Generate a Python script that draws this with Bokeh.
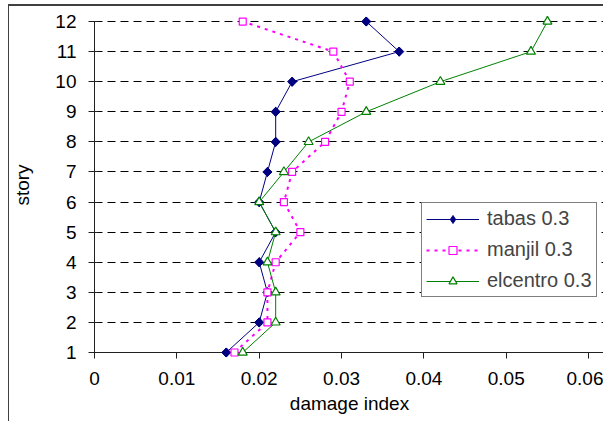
from bokeh.plotting import figure
from bokeh.models import FixedTicker, Range1d, Legend, LegendItem, Grid
from bokeh.embed import file_html
from bokeh.resources import INLINE

# ---- data ----
story = [1, 2, 3, 4, 5, 6, 7, 8, 9, 10, 11, 12]
tabas = [0.016, 0.020, 0.021, 0.020, 0.022, 0.020, 0.021, 0.022, 0.022, 0.024, 0.037, 0.033]
manjil = [0.017, 0.021, 0.021, 0.022, 0.025, 0.023, 0.024, 0.028, 0.030, 0.031, 0.029, 0.018]
elcentro = [0.018, 0.022, 0.022, 0.021, 0.022, 0.020, 0.023, 0.026, 0.033, 0.042, 0.053, 0.055]
x_ticks = [0, 0.01, 0.02, 0.03, 0.04, 0.05, 0.06]
x_tick_labels = ["0", "0.01", "0.02", "0.03", "0.04", "0.05", "0.06"]
y_ticks = [1, 2, 3, 4, 5, 6, 7, 8, 9, 10, 11, 12]
series_names = ["tabas 0.3", "manjil 0.3", "elcentro 0.3"]

FONT = "Liberation Sans"
FS = "19px"
X_MIN, X_MAX = x_ticks[0], x_ticks[-1]
Y_MIN, Y_MAX = y_ticks[0], y_ticks[-1]

p = figure(width=595, height=417, output_backend="svg", toolbar_location=None,
           x_range=Range1d(X_MIN, 0.06193), y_range=Range1d(0.834, 12.3),
           min_border_left=82, min_border_right=0, min_border_top=6, min_border_bottom=66)
p.outline_line_color = None
p.background_fill_color = "white"
p.border_fill_color = "white"
p.styles = {"margin-left": "8px", "margin-top": "4px",
            "border-left": "1px solid #404040", "border-top": "2px solid #404040"}

# axes
for ax in (p.xaxis[0], p.yaxis[0]):
    ax.axis_line_color = "#202020"
    ax.major_tick_line_color = "#202020"
    ax.minor_tick_line_color = None
    ax.major_label_text_font = FONT
    ax.major_label_text_font_size = FS
    ax.major_label_text_color = "black"
    ax.axis_label_text_font = FONT
    ax.axis_label_text_font_size = FS
    ax.axis_label_text_font_style = "normal"
    ax.axis_label_text_color = "black"

p.xaxis.ticker = FixedTicker(ticks=x_ticks)
p.xaxis.major_label_overrides = {t: l for t, l in zip(x_ticks, x_tick_labels)}
p.xaxis.axis_line_color = None
p.xaxis.major_tick_in = 5
p.xaxis.major_tick_out = 1
p.xaxis.major_label_standoff = 13
p.xaxis.axis_label = "damage index"
p.xaxis.axis_label_standoff = 5

p.yaxis.ticker = FixedTicker(ticks=y_ticks)
p.yaxis.bounds = (Y_MIN, Y_MAX)
p.yaxis.major_tick_in = 4
p.yaxis.major_tick_out = 6
p.yaxis.major_label_standoff = 12
p.yaxis.axis_label = "story"
p.yaxis.axis_label_standoff = 19

p.xgrid.visible = False
p.ygrid.ticker = FixedTicker(ticks=[t for t in y_ticks if t > Y_MIN])
p.ygrid.grid_line_color = "black"
p.ygrid.grid_line_dash = "8 5"
p.ygrid.grid_line_width = 1
p.ygrid.bounds = (X_MIN, 0.0597)

# x-axis baseline at story 1
base = Grid(dimension=1, ticker=FixedTicker(ticks=[Y_MIN]), grid_line_color="#202020",
            grid_line_width=1, bounds=(X_MIN, X_MAX))
p.add_layout(base)

# series
r1l = p.line(tabas, story, line_color="#000080", line_width=1)
r1m = p.scatter(tabas, story, marker="diamond", size=9,
                fill_color="#000080", line_color="#000080")
p.scatter(tabas, story, marker="square", angle=0.785398, size=6.5,
          fill_color="#000080", line_color="#000080")

r2l = p.line(manjil, story, line_color="#FF00FF", line_width=2, line_dash="3 5")
r2m = p.scatter(manjil, story, marker="square", size=7, fill_color="white",
                line_color="#FF00FF", line_width=1.2)

r3l = p.line(elcentro, story, line_color="#008000", line_width=1)
r3m = p.scatter(elcentro, story, marker="triangle", size=9, fill_color="white",
                line_color="#008000", line_width=1.2)

lg = Legend(items=[LegendItem(label=series_names[0], renderers=[r1l, r1m]),
                   LegendItem(label=series_names[1], renderers=[r2l, r2m]),
                   LegendItem(label=series_names[2], renderers=[r3l, r3m])])
lg.location = (327, 60)
lg.border_line_color = "black"
lg.border_line_width = 1
lg.background_fill_color = "white"
lg.background_fill_alpha = 1
lg.label_text_font = FONT
lg.label_text_font_size = "20px"
lg.label_height = 23
lg.glyph_height = 20
lg.glyph_width = 53
lg.label_standoff = 8
lg.spacing = 8
lg.padding = 4
lg.margin = 0
p.add_layout(lg, "center")

open("out.html", "w").write(file_html(p, INLINE))
